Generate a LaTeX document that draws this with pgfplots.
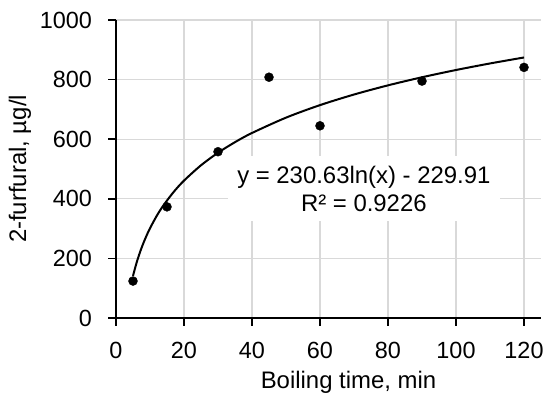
\documentclass[border=0pt]{standalone}
\usepackage{pgfplots}
\pgfplotsset{compat=1.18}
\usepackage{fontspec}
\setmainfont{Liberation Sans}
\begin{document}
\begin{tikzpicture}
\path[use as bounding box] (-116bp,-77bp) rectangle (430bp,318bp);
\begin{axis}[
  scale only axis,
  width=425bp, height=298bp,
  xmin=0, xmax=125, ymin=0, ymax=1000,
  xtick={0,20,...,120}, ytick={0,200,...,1000},
  axis x line=bottom, axis y line=left,
  axis line style={-, line width=1.5bp, black},
  tick style={line width=1.5bp, black},
  tick align=outside, major tick length=7.5bp,
  grid=major,
  major grid style={line width=1.3bp, color=black!15},
  /pgf/number format/assume math mode=true,
  /pgf/number format/1000 sep={},
  xticklabel style={font=\fontsize{23.5}{27}\selectfont, yshift=-13bp},
  yticklabel style={font=\fontsize{23.5}{27}\selectfont, xshift=-13bp},
  xlabel={Boiling time, min},
  ylabel={2-furfural, µg/l},
  xlabel style={font=\fontsize{24}{28}\selectfont, yshift=-6bp, xshift=20bp},
  ylabel style={font=\fontsize{24}{28}\selectfont, yshift=2bp},
  clip=false,
]
\addplot[black, line width=2bp, smooth] coordinates {
(5,141.27) (6,183.32) (7,218.87) (8,249.67) (9,276.84) (10,301.13)
(12,343.18) (14,378.74) (17,423.51) (20,460.99) (25,512.46) (30,554.51)
(35,590.05) (40,620.85) (50,672.32) (60,714.37) (70,749.92) (80,780.72)
(90,807.88) (100,832.18) (110,854.17) (120,874.23)};
\node[fill=white, inner sep=0pt, minimum width=272bp, minimum height=65bp,
  align=center, font=\fontsize{24}{28}\selectfont] at (axis cs:72.9,433)
  {y = 230.63ln(x) - 229.91\\R² = 0.9226};
\addplot[only marks, mark=*, mark size=4.5bp, black] coordinates {
(5,124) (15,373) (30,558) (45,808) (60,645) (90,795) (120,841)};
\end{axis}
\end{tikzpicture}
\end{document}
